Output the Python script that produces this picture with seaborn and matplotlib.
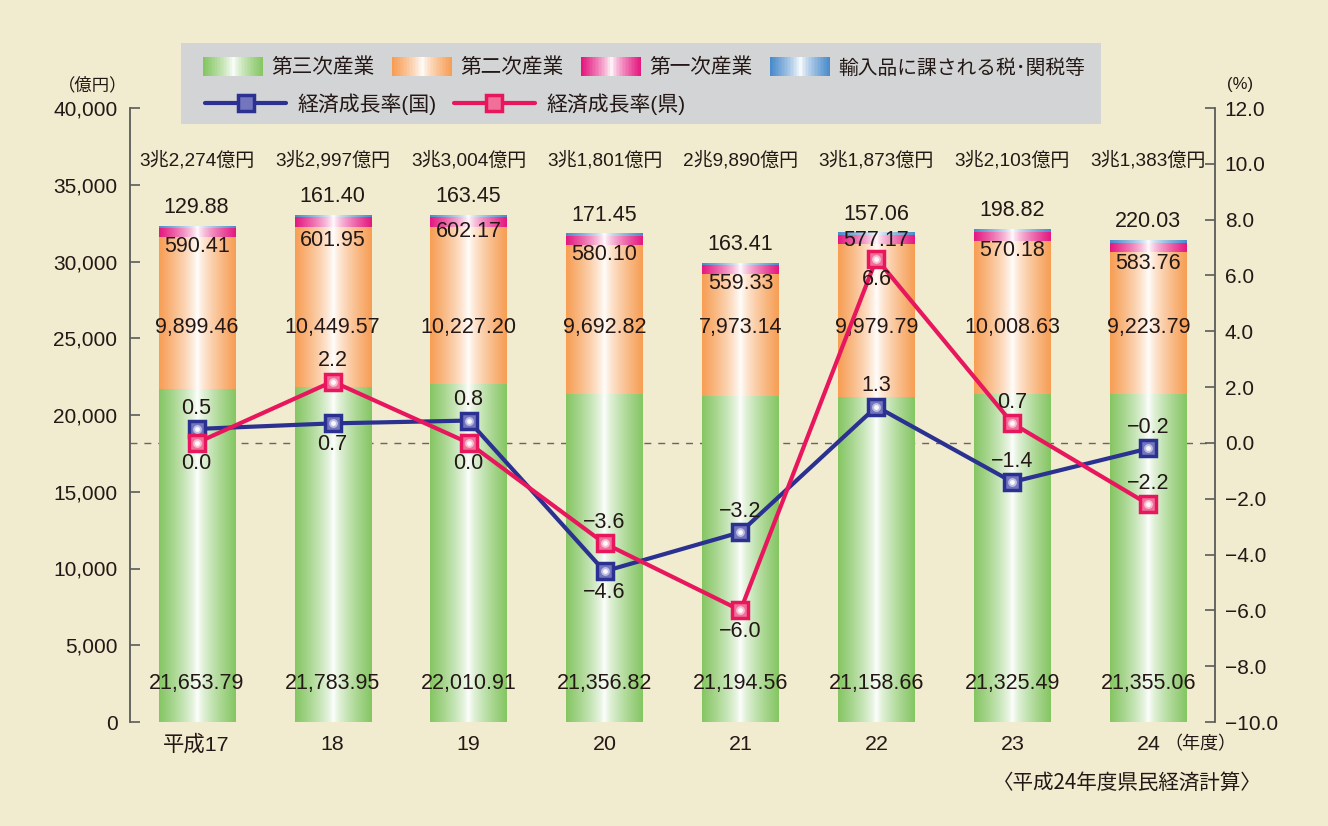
import numpy as np
import matplotlib
matplotlib.use("Agg")
import matplotlib.pyplot as plt
import matplotlib.colors as mcolors
import seaborn as sns
from matplotlib.legend_handler import HandlerBase
from matplotlib.patches import Rectangle
from matplotlib.lines import Line2D
from matplotlib.transforms import blended_transform_factory
from matplotlib.ticker import FuncFormatter, MultipleLocator

# ---------------- data ----------------
years = ["平成17", "18", "19", "20", "21", "22", "23", "24"]
tertiary = [21653.79, 21783.95, 22010.91, 21356.82, 21194.56, 21158.66, 21325.49, 21355.06]
secondary = [9899.46, 10449.57, 10227.20, 9692.82, 7973.14, 9979.79, 10008.63, 9223.79]
primary = [590.41, 601.95, 602.17, 580.10, 559.33, 577.17, 570.18, 583.76]
import_tax = [129.88, 161.40, 163.45, 171.45, 163.41, 157.06, 198.82, 220.03]
total_labels = ["3兆2,274億円", "3兆2,997億円", "3兆3,004億円", "3兆1,801億円",
                "2兆9,890億円", "3兆1,873億円", "3兆2,103億円", "3兆1,383億円"]
growth_nation = [0.5, 0.7, 0.8, -4.6, -3.2, 1.3, -1.4, -0.2]
growth_pref = [0.0, 2.2, 0.0, -3.6, -6.0, 6.6, 0.7, -2.2]
series_names = ["第三次産業", "第二次産業", "第一次産業", "輸入品に課される税･関税等"]
line_names = ["経済成長率(国)", "経済成長率(県)"]

# label placement (style): +1 above / -1 below the marker
nation_side = [1, -1, 1, -1, 1, 1, 1, 1]
pref_side = [-1, 1, -1, 1, -1, -1, 1, 1]
primary_offsets = [-13, -16, -10, -13, -13, -4, -13, -14]

# ---------------- style ----------------
BG = "#F1EBCF"
LEGBG = "#D3D4D6"
TXT = "#231815"
SPINE = "#5A5A5A"
C_TER = "#85C663"
C_SEC = "#F79E55"
C_PRI = "#E4187F"
C_IMP = "#4A8BCB"
C_NAT = "#2B3190"
C_PRF = "#E8175D"
VAL_FS = 15.5

sns.set_style("white")
plt.rcParams["font.family"] = ["Liberation Sans", "Noto Sans CJK JP"]
plt.rcParams["axes.unicode_minus"] = True

W, H = 1328, 826
fig = plt.figure(figsize=(W / 100, H / 100), dpi=100, facecolor=BG)
ax1 = fig.add_axes([130 / W, 1 - 722 / H, (1215 - 130) / W, (722 - 108) / H])
ax1.patch.set_visible(False)
ax2 = ax1.twinx()
ax2.patch.set_visible(False)

idx = np.arange(len(years))
ter = np.array(tertiary)
c2 = ter + np.array(secondary)
c3 = c2 + np.array(primary)
c4 = c3 + np.array(import_tax)


def grad_rgb(color, n=96):
    c = np.array(mcolors.to_rgb(color))
    t = np.abs(np.linspace(-1, 1, n))
    m = t ** 0.75
    return 1 - (1 - c)[None, :] * m[:, None]


layers = [(c4, C_IMP), (c3, C_PRI), (c2, C_SEC), (ter, C_TER)]
for li, (vals, col) in enumerate(layers):
    n_before = len(ax1.patches)
    sns.barplot(x=idx, y=vals, color=col, width=0.56, errorbar=None,
                ax=ax1, saturation=1, linewidth=0)
    rgb = grad_rgb(col)[None, :, :]
    for p in ax1.patches[n_before:]:
        p.set_visible(False)
        x0, w = p.get_x(), p.get_width()
        y0, h = p.get_y(), p.get_height()
        ax1.imshow(rgb, extent=(x0, x0 + w, y0, y0 + h), aspect="auto",
                   interpolation="bilinear", zorder=2 + li)

ax1.set_xlim(-0.49, len(years) - 0.51)
ax1.set_ylim(0, 40000)
ax2.set_ylim(-10, 12)
ax1.set_xlabel("")
ax1.set_ylabel("")

# dashed zero line (behind bars)
zero_tr = blended_transform_factory(ax1.transAxes, ax2.transData)
ax1.add_line(Line2D([0, 1], [0, 0], transform=zero_tr, color="#666666",
                    lw=1.0, ls=(0, (5, 5)), zorder=1))

# growth lines
for vals, col, face in [(growth_nation, C_NAT, "#7375BE"), (growth_pref, C_PRF, "#F0709A")]:
    sns.lineplot(x=idx, y=vals, ax=ax2, color=col, lw=3, marker="s",
                 markersize=12, markerfacecolor=face, markeredgecolor=col,
                 markeredgewidth=2.5, legend=False, sort=False, zorder=5)
    ax2.scatter(idx, vals, s=40, color="white", alpha=0.55, zorder=6, linewidths=0)
    ax2.scatter(idx, vals, s=12, color="white", alpha=0.9, zorder=6, linewidths=0)

ax2.set_ylabel("")


def fmt_pct(v):
    return f"{v:.1f}".replace("-", "\u2212")


for i in idx:
    ax2.annotate(fmt_pct(growth_nation[i]), (i, growth_nation[i]),
                 xytext=(0, 15 * nation_side[i]), textcoords="offset points",
                 ha="center", va="center", fontsize=VAL_FS, color=TXT, zorder=8)
    ax2.annotate(fmt_pct(growth_pref[i]), (i, growth_pref[i]),
                 xytext=(0, 15 * pref_side[i]), textcoords="offset points",
                 ha="center", va="center", fontsize=VAL_FS, color=TXT, zorder=8)

# bar value labels
tr_xa = blended_transform_factory(ax1.transData, ax1.transAxes)
for i in idx:
    ax1.text(i, (722 - 684) / 614, f"{tertiary[i]:,.2f}", transform=tr_xa,
             ha="center", va="center", fontsize=VAL_FS, color=TXT, zorder=9)
    ax1.text(i, (722 - 327) / 614, f"{secondary[i]:,.2f}", transform=tr_xa,
             ha="center", va="center", fontsize=VAL_FS, color=TXT, zorder=9)
    ax1.annotate(f"{primary[i]:,.2f}", (i, c3[i]), xytext=(0, primary_offsets[i]),
                 textcoords="offset points", ha="center", va="center",
                 fontsize=VAL_FS, color=TXT, zorder=9)
    ax1.annotate(f"{import_tax[i]:,.2f}", (i, c4[i]), xytext=(0, 13.5),
                 textcoords="offset points", ha="center", va="center",
                 fontsize=VAL_FS, color=TXT, zorder=9)
    ax1.text(i, (722 - 160) / 614, total_labels[i], transform=tr_xa,
             ha="center", va="center", fontsize=13.7, color=TXT, zorder=9)

# axes styling
for s in ["top", "bottom", "right"]:
    ax1.spines[s].set_visible(False)
for s in ["top", "bottom", "left"]:
    ax2.spines[s].set_visible(False)
ax1.spines["left"].set_color(SPINE)
ax1.spines["left"].set_linewidth(1.3)
ax2.spines["right"].set_color(SPINE)
ax2.spines["right"].set_linewidth(1.3)

ax1.yaxis.set_major_locator(MultipleLocator(5000))
ax1.yaxis.set_major_formatter(FuncFormatter(lambda v, p: f"{int(v):,}"))
ax2.yaxis.set_major_locator(MultipleLocator(2))
ax2.yaxis.set_major_formatter(FuncFormatter(lambda v, p: fmt_pct(v)))
ax1.tick_params(axis="y", direction="in", length=7, width=1.2, color=SPINE,
                pad=9, labelsize=15, labelcolor=TXT)
ax2.tick_params(axis="y", direction="in", length=7, width=1.2, color=SPINE,
                pad=7, labelsize=15, labelcolor=TXT)
ax1.set_xticks(idx, years)
ax1.tick_params(axis="x", length=0, pad=9, labelsize=15.4, labelcolor=TXT)
ax2.tick_params(axis="x", length=0)
ax1.grid(False)
ax2.grid(False)

ax1.text(7.12, -(745 - 722) / 614, "（年度）", transform=tr_xa, ha="left",
         va="center", fontsize=13, color=TXT)

# unit labels & source
fig.text(93 / W, 1 - 85 / H, "（億円）", ha="center", va="center", fontsize=12.5, color=TXT)
fig.text(1240 / W, 1 - 85 / H, "(%)", ha="center", va="center", fontsize=12, color=TXT)
fig.text(1262 / W, 1 - 783 / H, "〈平成24年度県民経済計算〉", ha="right", va="center",
         fontsize=14.8, color=TXT, family=["Noto Sans CJK JP"])

# legend background
fig.patches.append(Rectangle((181 / W, 1 - 124 / H), 920 / W, 81 / H,
                             transform=fig.transFigure, facecolor=LEGBG,
                             edgecolor="none", zorder=1))


class GradHandler(HandlerBase):
    def __init__(self, color):
        super().__init__()
        self.color = color

    def create_artists(self, legend, orig_handle, xdescent, ydescent,
                       width, height, fontsize, trans):
        n = 40
        rgb = grad_rgb(self.color, n)
        arts = []
        sw = width / n
        for k in range(n):
            r = Rectangle((-xdescent + k * sw, -ydescent), sw * 1.05, height,
                          facecolor=rgb[k], edgecolor="none", lw=0, transform=trans)
            arts.append(r)
        return arts


bar_handles = [Rectangle((0, 0), 1, 1) for _ in series_names]
hmap = {h: GradHandler(c) for h, c in zip(bar_handles, [C_TER, C_SEC, C_PRI, C_IMP])}
leg1 = fig.legend(bar_handles, series_names, handler_map=hmap, ncol=4,
                  loc="center left", bbox_to_anchor=(203 / W, 1 - 67 / H),
                  frameon=False, fontsize=14.9, handlelength=2.9, handleheight=1.1,
                  handletextpad=0.4, columnspacing=0.85, borderpad=0,
                  borderaxespad=0, labelcolor=TXT)
leg1.get_texts()[3].set_fontsize(14.2)
line_handles = [
    Line2D([], [], color=C_NAT, lw=3, marker="s", markersize=11,
           markerfacecolor="#7375BE", markeredgecolor=C_NAT, markeredgewidth=2.5),
    Line2D([], [], color=C_PRF, lw=3, marker="s", markersize=11,
           markerfacecolor="#F0709A", markeredgecolor=C_PRF, markeredgewidth=2.5),
]
leg2 = fig.legend(line_handles, line_names, ncol=2, loc="center left",
                  bbox_to_anchor=(205 / W, 1 - 104 / H), frameon=False,
                  fontsize=15, handlelength=3.9, handletextpad=0.55,
                  columnspacing=0.8, borderpad=0, borderaxespad=0,
                  numpoints=1, labelcolor=TXT)

fig.savefig("out.png", dpi=100, facecolor=BG)
